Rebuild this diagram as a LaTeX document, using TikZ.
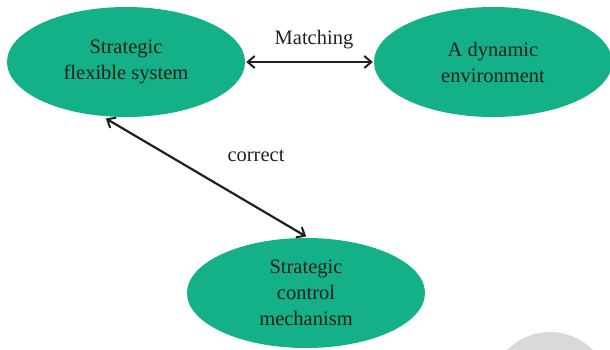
\documentclass[tikz,border=0pt]{standalone}
\usepackage{fontspec}
\setmainfont{Liberation Serif}
\usetikzlibrary{shapes.geometric,arrows.meta}
\definecolor{tealfill}{HTML}{14B087}
\definecolor{inkdark}{HTML}{231F20}
\definecolor{wmgray}{HTML}{D9D9D9}
\tikzset{
  blob/.style={ellipse, fill=tealfill, draw=none, minimum width=238pt, minimum height=110pt, inner sep=0pt,
    align=center, text=inkdark, font=\fontsize{20.5}{26}\selectfont},
  link/.style={draw=inkdark, line width=2.2pt, {Straight Barb[length=7pt,width=12pt,line width=2pt]}-{Straight Barb[length=7pt,width=12pt,line width=2pt]}, shorten <=1pt, shorten >=1pt},
  lbl/.style={text=inkdark, font=\fontsize{20.5}{24}\selectfont, inner sep=0pt}
}
\begin{document}
\begin{tikzpicture}[x=1pt,y=-1pt]
\useasboundingbox (0,0) rectangle (610,349);
\begin{scope}
\clip (0,0) rectangle (610,349);
\fill[wmgray] (550,392) circle (60);
\node[blob] (sfs) at (126,62) {Strategic\\flexible system};
\node[blob] (dyn) at (493,62) {A dynamic\\environment};
\node[blob] (scm) at (306,293) {Strategic\\control\\mechanism};
\end{scope}
\draw[link] (sfs.east) -- (dyn.west);
\draw[link] (105,118) -- (307,237);
\node[lbl] (m) at (314,40) {Matching};
\node[lbl] (c) at (256,156) {correct};
\end{tikzpicture}
\end{document}
